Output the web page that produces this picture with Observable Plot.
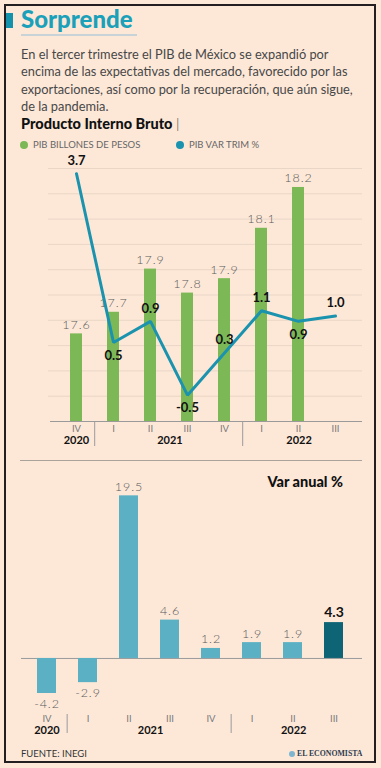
<!DOCTYPE html>
<html>
<head>
<meta charset="utf-8">
<script src="https://cdn.jsdelivr.net/npm/d3@7"></script>
<script src="https://cdn.jsdelivr.net/npm/@observablehq/plot@0.6"></script>
<style>
html,body{margin:0;padding:0;background:#fde8d8;}
body{width:381px;height:768px;position:relative;overflow:hidden;font-family:Lato,"Open Sans",sans-serif;}
#frame{position:absolute;left:4px;top:4px;width:372px;height:759px;border:2px solid #231f20;box-sizing:border-box;}
.abs{position:absolute;white-space:nowrap;}
#accent{left:6px;top:13px;width:7px;height:15px;background:#1592ab;}
#title{left:21px;top:7px;font-weight:900;font-size:24px;line-height:24px;color:#1ba0ba;}
#rule1{left:21px;top:34px;width:116px;height:1.5px;background:#c8d3d8;}
#sub{left:21px;top:45.5px;font-size:12.8px;line-height:17.5px;color:#474747;}
#ptitle{left:21px;top:117px;font-size:14.5px;line-height:14px;font-weight:900;color:#111;}
#ptitle span{font-weight:300;color:#333;}
#legend{left:20px;top:139px;font-size:9.5px;line-height:12px;color:#666;display:flex;align-items:center;}
.dot{display:inline-block;width:8px;height:8px;border-radius:50%;margin-right:5px;}
#sep{left:20px;top:460px;width:342px;height:1px;background:#aaa39c;}
#varanual{right:38px;top:474px;font-size:14.5px;font-weight:900;color:#111;line-height:16px;}
#fuente{left:21px;top:748px;font-size:9.5px;line-height:12px;color:#333;}
#logo{left:289px;top:749px;font-size:7.8px;line-height:10px;font-weight:bold;color:#2e3b4e;font-family:"Liberation Serif","DejaVu Serif",serif;display:flex;align-items:center;}
#logo i{display:inline-block;width:6px;height:6px;border-radius:50%;background:#7fb6cf;margin-right:2px;}
.plot{position:absolute;left:0;}
</style>
</head>
<body>
<div id="frame"></div>
<div class="abs" id="accent"></div>
<div class="abs" id="title">Sorprende</div>
<div class="abs" id="rule1"></div>
<div class="abs" id="sub">En el tercer trimestre el PIB de México se expandió por<br>encima de las expectativas del mercado, favorecido por las<br>exportaciones, así como por la recuperación, que aún sigue,<br>de la pandemia.</div>
<div class="abs" id="ptitle">Producto Interno Bruto <span>|</span></div>
<div class="abs" id="legend"><span class="dot" style="background:#7db857"></span><span style="width:143px">PIB BILLONES DE PESOS</span><span class="dot" style="background:#1b93ae"></span><span>PIB VAR TRIM %</span></div>
<div class="abs" id="sep"></div>
<div class="abs" id="varanual">Var anual %</div>
<div class="abs" id="fuente">FUENTE: INEGI</div>
<div class="abs" id="logo"><i></i>EL ECONOMISTA</div>
<div id="top1" class="plot" style="top:150px"></div>
<div id="top2" class="plot" style="top:150px"></div>
<div id="bot" class="plot" style="top:470px"></div>
<script>
// ---- data ----
const quarters = ["IV","I","II","III","IV","I","II","III"];
const years = ["2020","2021","2022"];
const yearStart = [0,1,5];
const yearEnd = [0,4,7];
const pibBillones = [17.63, 17.72, 17.90, 17.80, 17.86, 18.07, 18.24, null];
const pibVarTrim = [3.7, 0.5, 0.9, -0.5, 0.3, 1.1, 0.9, 1.0];
const pibVarAnual = [-4.2, -2.9, 19.5, 4.6, 1.2, 1.9, 1.9, 4.3];

const idx = quarters.map((q,i)=>i);
const rows = idx.map(i => ({i, q: quarters[i], bil: pibBillones[i], trim: pibVarTrim[i], anual: pibVarAnual[i]}));
const barRows = rows.filter(d => d.bil != null);
const isMin = d => {
  const p = rows[d.i-1], n = rows[d.i+1];
  return p && n && d.trim < p.trim && d.trim < n.trim;
};
const W = 381;
const font = "Lato, 'Open Sans', sans-serif";
const style = {background:"transparent", fontFamily: font, overflow:"visible"};
const labelGray = "#5a5a5a";

// ---- top chart ----
const topH = 300, topMT = 18, topMB = 29;
const tPI = 0.68, tPO = 0.5, tR = [49, 362];
const topStep = (tR[1]-tR[0])/(quarters.length - tPI + 2*tPO);
const topX = {type:"band", domain: idx, range: tR, paddingInner: tPI, paddingOuter: tPO, axis: null};
const barDomain = [17.265, 18.319];
const gridVals = d3.range(1, 11).map(k => barDomain[0] + k*(barDomain[1]-barDomain[0])/10);
const frameH = topH - topMT - topMB;

function axisMarks(step, dyQ, dyY, insetTop, insetBottom) {
  return [
    Plot.text(idx, {x: d=>d, text: d=>quarters[d], frameAnchor:"bottom", dy: dyQ, fill:"#7a7a7a", fontSize:9.5}),
    Plot.ruleX(yearStart.slice(1), {x: d=>d, dx: -step/2, stroke:"#9a9a9a", strokeWidth:1, insetTop, insetBottom}),
    years.map((y,k) => Plot.text([k], {x: ()=>yearStart[k], text: ()=>y, dx: (yearEnd[k]-yearStart[k])/2*step, frameAnchor:"bottom", dy: dyY, fontWeight:"bold", fontSize:11, fill:"#111"}))
  ];
}

const p1 = Plot.plot({
  width: W, height: topH, marginTop: topMT, marginBottom: topMB, marginLeft: 48, marginRight: 19,
  x: topX, y: {domain: barDomain, axis: null}, style,
  marks: [
    Plot.ruleY(gridVals, {stroke:"#ead6c6", strokeWidth:1}),
    Plot.barY(barRows, {x:"i", y1: barDomain[0], y2:"bil", fill:"#7db857"}),
    Plot.text(barRows, {x:"i", y:"bil", text: d=>d.bil.toFixed(1), dy:-9, fill: labelGray, fontSize:12.5, fontWeight:300}),
    Plot.ruleY([barDomain[0]], {stroke:"#9a9a9a", insetLeft: 2}),
    axisMarks(topStep, 10.5, 22, frameH + 1, -25)
  ]
});
document.getElementById("top1").appendChild(p1);

const p2 = Plot.plot({
  width: W, height: topH, marginTop: topMT, marginBottom: topMB, marginLeft: 48, marginRight: 19,
  x: topX, y: {domain: [-1, 3.8], axis: null}, style,
  marks: [
    Plot.line(rows, {x:"i", y:"trim", stroke:"#1b93ae", strokeWidth:3, strokeLinejoin:"miter"}),
    Plot.text(rows.filter(isMin), {x:"i", y:"trim", text: d=>d.trim.toFixed(1), dy:13, fontWeight:"bold", fontSize:13, fill:"#111"}),
    Plot.text(rows.filter(d=>!isMin(d)), {x:"i", y:"trim", text: d=>d.trim.toFixed(1), dy:-13, fontWeight:"bold", fontSize:13, fill:"#111"})
  ]
});
document.getElementById("top2").appendChild(p2);

// ---- bottom chart ----
const botH = 270, botMT = 17, botMB = 32;
const bPI = 0.544, bPO = 0.337, bR = [20, 359];
const botStep = (bR[1]-bR[0])/(quarters.length - bPI + 2*bPO);
const last = quarters.length - 1;
const botFrameH = botH - botMT - botMB;
const p3 = Plot.plot({
  width: W, height: botH, marginTop: botMT, marginBottom: botMB, marginLeft: 21, marginRight: 19,
  x: {type:"band", domain: idx, range: bR, paddingInner: bPI, paddingOuter: bPO, axis: null},
  y: {domain: [-6, 20.5], axis: null}, style,
  marks: [
    Plot.ruleY([0], {stroke:"#9a9a9a"}),
    Plot.barY(rows, {x:"i", y:"anual", fill: d => d.i === last ? "#0e6474" : "#5cb0c4"}),
    Plot.text(rows.filter(d=>d.anual>=0 && d.i!==last), {x:"i", y:"anual", text: d=>d.anual.toFixed(1), dy:-9, fill: labelGray, fontSize:12.5, fontWeight:300}),
    Plot.text(rows.filter(d=>d.anual<0), {x:"i", y:"anual", text: d=>d.anual.toFixed(1), dy:10.5, fill: labelGray, fontSize:12.5, fontWeight:300}),
    Plot.text(rows.filter(d=>d.i===last), {x:"i", y:"anual", text: d=>d.anual.toFixed(1), dy:-10, fill:"#111", fontWeight:"bold", fontSize:14}),
    axisMarks(botStep, 13, 25, botFrameH + 6, -25)
  ]
});
document.getElementById("bot").appendChild(p3);

// light, spaced-out value labels as in the original typography
d3.selectAll(`.plot svg g[fill="${labelGray}"]`).attr("letter-spacing", "0.9px");
</script>
</body>
</html>
